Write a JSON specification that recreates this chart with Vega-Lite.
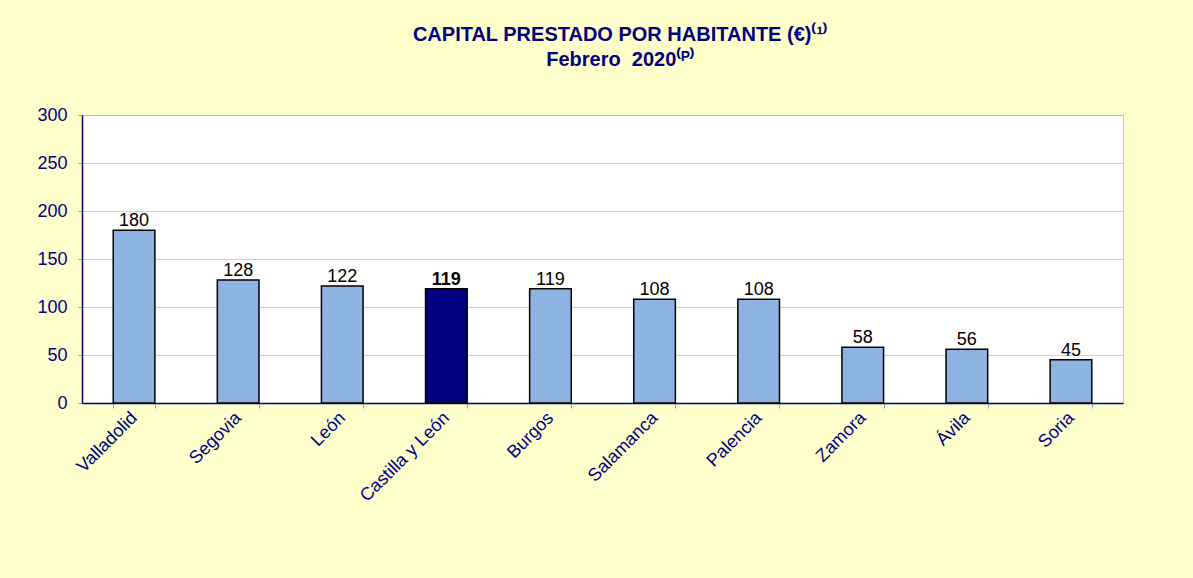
{
  "$schema": "https://vega.github.io/schema/vega-lite/v6.json",
  "autosize": "none",
  "width": 1041,
  "height": 288,
  "padding": {"left": 82, "top": 115, "right": 70, "bottom": 175},
  "background": "#FFFFCC",
  "title": {
    "text": ["CAPITAL PRESTADO POR HABITANTE (€)⁽¹⁾", "Febrero\u00a0 2020⁽ᴾ⁾"],
    "font": "Liberation Sans",
    "fontSize": 20,
    "fontWeight": "bold",
    "color": "#000080",
    "anchor": "middle",
    "frame": "group",
    "dx": 18,
    "offset": 36,
    "lineHeight": 25
  },
  "config": {
    "view": {"stroke": "#C8C8C8", "fill": "white"},
    "axis": {"labelFont": "Liberation Sans", "labelColor": "#000080", "domainColor": "#000080", "domainWidth": 1.5}
  },
  "data": {
    "values": [
      {"zona": "Valladolid", "valor": 180, "tipo": "provincia"},
      {"zona": "Segovia", "valor": 128, "tipo": "provincia"},
      {"zona": "León", "valor": 122, "tipo": "provincia"},
      {"zona": "Castilla y León", "valor": 119, "tipo": "total"},
      {"zona": "Burgos", "valor": 119, "tipo": "provincia"},
      {"zona": "Salamanca", "valor": 108, "tipo": "provincia"},
      {"zona": "Palencia", "valor": 108, "tipo": "provincia"},
      {"zona": "Zamora", "valor": 58, "tipo": "provincia"},
      {"zona": "Ávila", "valor": 56, "tipo": "provincia"},
      {"zona": "Soria", "valor": 45, "tipo": "provincia"}
    ]
  },
  "encoding": {
    "x": {
      "field": "zona", "type": "nominal", "sort": null,
      "scale": {"paddingInner": 0.6, "paddingOuter": 0.3},
      "axis": {
        "title": null, "labelAngle": -45, "labelAlign": "right", "labelBaseline": "middle",
        "labelFontSize": 18, "labelPadding": 7, "tickBand": "extent",
        "tickColor": "#A0A0A0", "tickSize": 5, "labelOverlap": false
      }
    },
    "y": {
      "field": "valor", "type": "quantitative",
      "scale": {"domain": [0, 300]},
      "axis": {
        "title": null, "values": [0, 50, 100, 150, 200, 250, 300],
        "labelFontSize": 18, "labelPadding": 11, "tickColor": "#A0A0A0", "tickSize": 4,
        "gridColor": "#A0A0A0", "gridDash": [1, 1], "gridWidth": 1
      }
    }
  },
  "layer": [
    {
      "mark": {"type": "bar", "stroke": "black", "strokeWidth": 1.5},
      "encoding": {
        "color": {
          "field": "tipo", "type": "nominal",
          "scale": {"domain": ["provincia", "total"], "range": ["#8DB3E2", "#000080"]},
          "legend": null
        }
      }
    },
    {
      "transform": [{"filter": "datum.tipo === 'provincia'"}],
      "mark": {"type": "text", "baseline": "bottom", "font": "Liberation Sans", "fontSize": 18, "color": "black"},
      "encoding": {"text": {"field": "valor", "type": "quantitative"}}
    },
    {
      "transform": [{"filter": "datum.tipo === 'total'"}],
      "mark": {"type": "text", "baseline": "bottom", "font": "Liberation Sans", "fontSize": 18, "fontWeight": "bold", "color": "black"},
      "encoding": {"text": {"field": "valor", "type": "quantitative"}}
    }
  ]
}
